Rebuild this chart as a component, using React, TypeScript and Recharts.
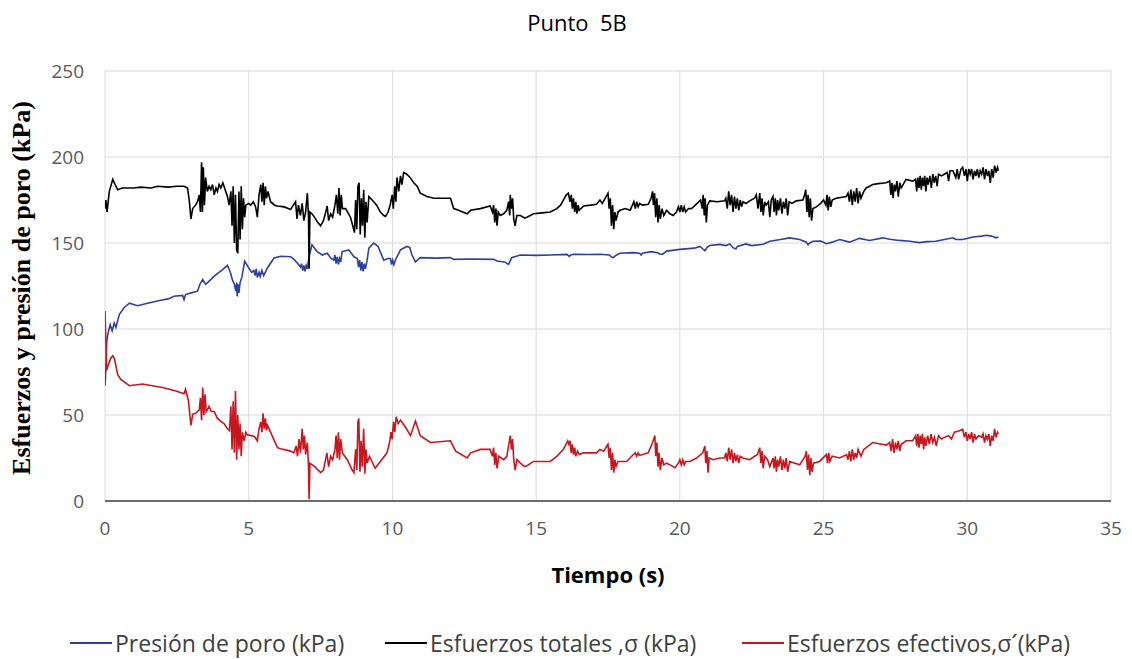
import React from "react";
import { LineChart, Line, XAxis, YAxis, CartesianGrid } from "recharts";

const chartTitle = "Punto  5B";
const xTitle = "Tiempo (s)";
const yTitle = "Esfuerzos y presión de poro (kPa)";
const seriesNames = ["Presión de poro (kPa)", "Esfuerzos totales ,σ (kPa)", "Esfuerzos efectivos,σ´(kPa)"];
const xTicks = [0, 5, 10, 15, 20, 25, 30, 35];
const yTicks = [0, 50, 100, 150, 200, 250];

// Presión de poro (kPa): [tiempo s, valor]
const poreSeries: [number, number][] = [
  [0, 67], [0.03, 77], [0.06, 93], [0.1, 97], [0.18, 102.5], [0.25, 99], [0.32, 103.5], [0.38, 101],
  [0.5, 108.5], [0.67, 112.5], [0.85, 115], [1.13, 113.5], [1.48, 115], [1.94, 116.7], [2.2, 117.5],
  [2.4, 119], [2.7, 119.5], [2.75, 117], [2.8, 120], [3.0, 121], [3.22, 122], [3.3, 126], [3.4, 128.7],
  [3.5, 126], [3.56, 126.8], [3.8, 130.7], [4.09, 134.5], [4.26, 137], [4.36, 133], [4.43, 128.7],
  [4.5, 126], [4.55, 122], [4.58, 127], [4.6, 119], [4.63, 126], [4.66, 121], [4.7, 127], [4.76, 130],
  [4.86, 139.4], [5.0, 135.5], [5.1, 133], [5.18, 134], [5.22, 131], [5.26, 135], [5.3, 130], [5.36, 133],
  [5.4, 130.5], [5.46, 134], [5.52, 131], [5.65, 135.5], [5.88, 141.3], [6.11, 142.3], [6.46, 142],
  [6.6, 140], [6.69, 138.4], [6.8, 136], [6.84, 138], [6.88, 134], [6.92, 137], [6.96, 133.5], [7.0, 137],
  [7.04, 135], [7.1, 142], [7.2, 149], [7.38, 145], [7.56, 143], [7.73, 144], [7.85, 141.3], [7.96, 140],
  [8.0, 143], [8.04, 138], [8.08, 142], [8.12, 137.5], [8.16, 141], [8.2, 139], [8.25, 145], [8.48, 146],
  [8.66, 142], [8.78, 141], [8.82, 136], [8.86, 140], [8.9, 134], [8.94, 139], [8.98, 133.5], [9.02, 138],
  [9.06, 135], [9.12, 140], [9.18, 147], [9.35, 150], [9.5, 148], [9.7, 140], [9.85, 141], [9.93, 141],
  [9.97, 137.5], [10.01, 140], [10.05, 137.4], [10.1, 140], [10.28, 146], [10.5, 148], [10.6, 147.5],
  [10.68, 143], [10.8, 139], [10.97, 141.5], [11.5, 141.2], [12.02, 141.5], [12.13, 140.5], [12.8, 140.7],
  [13.52, 140.5], [13.64, 139.5], [13.9, 139], [14.04, 137.6], [14.15, 141.5], [14.45, 143], [15.0, 142.8],
  [15.5, 143], [16.07, 143.4], [16.15, 142.2], [16.2, 143], [16.3, 143.5], [16.8, 143.3], [17.22, 143.5],
  [17.55, 143], [17.62, 141.8], [17.69, 141.5], [17.75, 142.5], [17.8, 143], [17.92, 144], [18.38, 144.4],
  [18.6, 144], [18.65, 143], [18.7, 144], [19.0, 145], [19.25, 144.2], [19.31, 143.5], [19.4, 143.5],
  [19.54, 145.3], [20.0, 146.3], [20.5, 147], [20.7, 148], [20.8, 146.5], [20.87, 145.5], [20.95, 147.5],
  [21.04, 148.5], [21.39, 149.2], [21.6, 148.5], [21.74, 149.5], [21.85, 147.3], [21.95, 146.5], [22.0, 148],
  [22.3, 149.5], [22.5, 148.5], [22.9, 149.3], [23.13, 151], [23.5, 152], [23.82, 153], [24.17, 152],
  [24.4, 150.5], [24.46, 149], [24.52, 150], [24.63, 151], [24.9, 151.2], [25.1, 149.6], [25.3, 150.5],
  [25.56, 152], [25.9, 150.5], [26.25, 152.7], [26.6, 151.5], [27.06, 153], [27.3, 152.2], [27.64, 151.5],
  [28.0, 151], [28.33, 150.2], [28.6, 150.8], [28.9, 151], [29.2, 152], [29.5, 153], [29.6, 152],
  [29.84, 152], [30.2, 153.5], [30.5, 154], [30.65, 154.5], [30.85, 154], [31.0, 153], [31.08, 153.5],
];

// Esfuerzos totales (kPa)
const totalSeries: [number, number][] = [
  [0, 170], [0.03, 175], [0.07, 168], [0.15, 180], [0.27, 187], [0.35, 184], [0.44, 181], [0.6, 182],
  [1.0, 182], [1.25, 182.5], [1.6, 182], [1.83, 183], [2.2, 182.5], [2.5, 183], [2.75, 183], [2.87, 182],
  [2.93, 175], [2.99, 164], [3.05, 170], [3.15, 172], [3.22, 174], [3.28, 178], [3.32, 168], [3.36, 197],
  [3.39, 168], [3.42, 194], [3.46, 172], [3.5, 188], [3.56, 180], [3.62, 183], [3.68, 181], [3.74, 184],
  [3.8, 178], [3.86, 182], [3.91, 180], [3.97, 184], [4.03, 182], [4.1, 185], [4.18, 181], [4.26, 177],
  [4.32, 172], [4.38, 180], [4.42, 160], [4.46, 183], [4.5, 150], [4.54, 178], [4.58, 146], [4.62, 144],
  [4.66, 180], [4.7, 152], [4.74, 183], [4.78, 158], [4.82, 176], [4.86, 165], [4.9, 172], [5.0, 173],
  [5.07, 172], [5.16, 174], [5.24, 171], [5.3, 165], [5.36, 178], [5.42, 184], [5.46, 174], [5.5, 185],
  [5.54, 172], [5.58, 183], [5.62, 176], [5.67, 180], [5.76, 174], [5.9, 172], [6.0, 171.5], [6.23, 171],
  [6.46, 169.5], [6.55, 172], [6.63, 174], [6.68, 164], [6.73, 172], [6.8, 166], [6.86, 173], [6.92, 163],
  [6.98, 168], [7.04, 179], [7.08, 166], [7.1, 135], [7.13, 168], [7.2, 167], [7.27, 165.5], [7.4, 162],
  [7.5, 160], [7.6, 163], [7.68, 168], [7.73, 171.5], [7.78, 163], [7.85, 167], [7.92, 165], [8.0, 172],
  [8.05, 178], [8.1, 167], [8.14, 182], [8.18, 166], [8.22, 178], [8.26, 170], [8.37, 170], [8.54, 165],
  [8.62, 160], [8.68, 156], [8.72, 175], [8.76, 158], [8.8, 183], [8.84, 185], [8.88, 155], [8.92, 176],
  [8.96, 160], [9.0, 181], [9.04, 153], [9.08, 174], [9.12, 162], [9.18, 177], [9.35, 174], [9.45, 172],
  [9.58, 168], [9.7, 166], [9.76, 165.5], [9.85, 168], [9.92, 172], [9.99, 178], [10.03, 170], [10.08, 183],
  [10.12, 174], [10.16, 188], [10.22, 180], [10.28, 189], [10.33, 184], [10.39, 191], [10.5, 190],
  [10.62, 188], [10.74, 185], [10.86, 183], [10.97, 179], [11.2, 177], [11.44, 176], [12.02, 176],
  [12.13, 170], [12.3, 169], [12.6, 167], [12.72, 169], [13.06, 170], [13.4, 171.5], [13.48, 168],
  [13.52, 172], [13.56, 162], [13.6, 170], [13.64, 160], [13.68, 168], [13.75, 166], [13.87, 167],
  [13.98, 169], [14.04, 174], [14.08, 166], [14.1, 178], [14.14, 170], [14.18, 176], [14.22, 164],
  [14.27, 160], [14.33, 166], [14.45, 166], [14.6, 164.5], [14.68, 165], [14.91, 167], [15.2, 167.5],
  [15.49, 168], [15.72, 170], [15.85, 172], [15.95, 175], [16.05, 178], [16.12, 179], [16.18, 174],
  [16.22, 178], [16.26, 170], [16.3, 176], [16.34, 168], [16.38, 174], [16.42, 167], [16.46, 172],
  [16.5, 169], [16.65, 171.5], [16.9, 172], [17.1, 172.5], [17.22, 175], [17.3, 173], [17.4, 176],
  [17.5, 179], [17.54, 170], [17.58, 176], [17.62, 160], [17.66, 172], [17.7, 158], [17.74, 168],
  [17.78, 163], [17.85, 168], [17.92, 169], [18.1, 170], [18.27, 169], [18.35, 172], [18.4, 174],
  [18.45, 170], [18.5, 174], [18.55, 171], [18.6, 173], [18.7, 172], [18.9, 172.5], [19.0, 176],
  [19.05, 180], [19.08, 172], [19.12, 179], [19.16, 165], [19.2, 176], [19.24, 162], [19.28, 172],
  [19.32, 164], [19.38, 170], [19.44, 166], [19.54, 169], [19.65, 167], [19.77, 166], [19.88, 168],
  [19.95, 171], [20.0, 168], [20.05, 172], [20.1, 168], [20.15, 171], [20.2, 168], [20.3, 170], [20.4, 170],
  [20.47, 171], [20.6, 173], [20.72, 175], [20.78, 170], [20.81, 178], [20.85, 166], [20.88, 176],
  [20.92, 162], [20.96, 172], [21.04, 174.5], [21.3, 174], [21.56, 174.5], [21.6, 176], [21.65, 170],
  [21.7, 180], [21.75, 172], [21.8, 178], [21.85, 168], [21.9, 177], [21.95, 170], [22.0, 176], [22.05, 169],
  [22.1, 175], [22.15, 171], [22.2, 174], [22.3, 173], [22.43, 174.5], [22.6, 176], [22.66, 178],
  [22.72, 170], [22.78, 179], [22.82, 168], [22.86, 176], [22.9, 166], [22.95, 174], [23.0, 172],
  [23.08, 174], [23.13, 165], [23.18, 175], [23.24, 177], [23.28, 168], [23.32, 176], [23.36, 166],
  [23.4, 175], [23.44, 169], [23.5, 176], [23.55, 167], [23.6, 174], [23.65, 170], [23.7, 176], [23.75, 166],
  [23.8, 174], [23.9, 173], [24.05, 174.5], [24.28, 175], [24.34, 178], [24.38, 181], [24.42, 168],
  [24.46, 178], [24.5, 165], [24.54, 176], [24.58, 163], [24.63, 170], [24.75, 171], [24.9, 173], [25.0, 175],
  [25.08, 172], [25.12, 178], [25.16, 169], [25.2, 177], [25.25, 171], [25.3, 175], [25.44, 176],
  [25.6, 176.5], [25.79, 177], [25.85, 179], [25.9, 174], [25.95, 181], [26.0, 172], [26.05, 180],
  [26.1, 174], [26.15, 182], [26.2, 173], [26.25, 180], [26.3, 176], [26.4, 180], [26.48, 182], [26.6, 183],
  [26.71, 184], [26.9, 184.5], [27.18, 185], [27.3, 186], [27.34, 178], [27.38, 185], [27.42, 176],
  [27.46, 184], [27.5, 180], [27.55, 186], [27.6, 177], [27.65, 185], [27.7, 182], [27.87, 187], [28.1, 186],
  [28.2, 187], [28.24, 180], [28.28, 188], [28.32, 182], [28.36, 189], [28.4, 181], [28.44, 188],
  [28.48, 183], [28.52, 189], [28.56, 180], [28.6, 188], [28.64, 184], [28.7, 189], [28.75, 182], [28.8, 190],
  [28.85, 185], [28.9, 189], [28.95, 183], [29.0, 190], [29.1, 189], [29.2, 190], [29.3, 191], [29.35, 186],
  [29.4, 192], [29.5, 192], [29.6, 188], [29.65, 193], [29.7, 187], [29.78, 193], [29.84, 194], [29.9, 189],
  [29.95, 193], [30.0, 186], [30.05, 193], [30.1, 190], [30.15, 193], [30.2, 187], [30.25, 192], [30.3, 189],
  [30.35, 193], [30.4, 188], [30.45, 192], [30.5, 190], [30.55, 194], [30.6, 187], [30.65, 193], [30.7, 189],
  [30.75, 192], [30.8, 185], [30.85, 193], [30.9, 188], [30.95, 195], [31.0, 191], [31.05, 194], [31.08, 192],
];

// Esfuerzos efectivos (kPa)
const effectiveSeries: [number, number][] = [
  [0, 110.5], [0.03, 93], [0.06, 76], [0.1, 78.5], [0.2, 83], [0.27, 84.5], [0.33, 82.5], [0.44, 73.6],
  [0.55, 70.7], [0.85, 67], [1.3, 68], [2.0, 66], [2.47, 64], [2.75, 62.4], [2.8, 65], [2.9, 58.6],
  [2.99, 44], [3.05, 50.4], [3.15, 51], [3.28, 53], [3.32, 60], [3.36, 47], [3.4, 66], [3.44, 50],
  [3.48, 62], [3.52, 52], [3.56, 53], [3.62, 55], [3.7, 52], [3.8, 52], [3.91, 48], [4.05, 46], [4.14, 45],
  [4.26, 42], [4.33, 41], [4.38, 55], [4.42, 30], [4.46, 58], [4.5, 28], [4.54, 64], [4.58, 24], [4.62, 50],
  [4.66, 30], [4.7, 45], [4.74, 26], [4.78, 40], [4.84, 35], [4.9, 40], [4.95, 38.5], [5.2, 37.5], [5.3, 35],
  [5.36, 42], [5.42, 46], [5.46, 40], [5.5, 51], [5.54, 42], [5.58, 48], [5.62, 41], [5.65, 44], [5.76, 40],
  [6.0, 31], [6.2, 30], [6.46, 29], [6.57, 28], [6.65, 32], [6.7, 26], [6.75, 36], [6.8, 28], [6.86, 42],
  [6.9, 30], [6.94, 38], [6.98, 27], [7.04, 34], [7.08, 20], [7.1, 1], [7.13, 22], [7.3, 20], [7.5, 16.5],
  [7.6, 18], [7.72, 28], [7.78, 20], [7.85, 26], [7.92, 24], [8.0, 30], [8.04, 38], [8.08, 25], [8.12, 40],
  [8.16, 24], [8.2, 36], [8.26, 28], [8.43, 24], [8.6, 18], [8.66, 16.5], [8.72, 30], [8.76, 18], [8.8, 46],
  [8.83, 48], [8.87, 17], [8.91, 35], [8.95, 20], [9.0, 42], [9.04, 16], [9.08, 30], [9.12, 22], [9.2, 26],
  [9.4, 19], [9.58, 23], [9.81, 28], [9.9, 34], [9.95, 40], [9.99, 36], [10.04, 46], [10.08, 40],
  [10.13, 49], [10.2, 45], [10.28, 47], [10.45, 43], [10.63, 38], [10.8, 46.5], [10.97, 38], [11.32, 34],
  [12.02, 35], [12.2, 29], [12.6, 25], [12.72, 28], [13.06, 30], [13.4, 30], [13.48, 26], [13.52, 31],
  [13.56, 21], [13.6, 28], [13.64, 19], [13.7, 26], [13.87, 24], [13.98, 26], [14.04, 32], [14.1, 38],
  [14.14, 30], [14.18, 36], [14.22, 24], [14.27, 18], [14.33, 24], [14.45, 22], [14.6, 20], [14.68, 20.5],
  [14.91, 23], [15.49, 23], [15.72, 26], [15.95, 30], [16.1, 35], [16.14, 33], [16.18, 35], [16.22, 28],
  [16.26, 33], [16.3, 27], [16.34, 31], [16.38, 26], [16.44, 29], [16.5, 27], [16.65, 28], [17.1, 28],
  [17.22, 30], [17.35, 29], [17.5, 33], [17.54, 25], [17.58, 31], [17.62, 18], [17.66, 28], [17.7, 16.5],
  [17.74, 24], [17.78, 20], [17.85, 23], [18.15, 23], [18.38, 27], [18.45, 28], [18.5, 26], [18.55, 28],
  [18.6, 26.5], [18.9, 28], [19.05, 34], [19.13, 38], [19.16, 26], [19.2, 34], [19.24, 20], [19.28, 28],
  [19.32, 18], [19.38, 25], [19.44, 21], [19.54, 22], [19.66, 21], [19.83, 19.3], [19.95, 22], [20.0, 24],
  [20.05, 21], [20.1, 24], [20.15, 21], [20.2, 23], [20.35, 23], [20.58, 25], [20.8, 28], [20.87, 32],
  [20.9, 22], [20.94, 29], [20.98, 16.5], [21.02, 25], [21.16, 24], [21.39, 25], [21.56, 25], [21.6, 28],
  [21.65, 23], [21.7, 31], [21.75, 24], [21.8, 30], [21.85, 22], [21.9, 28], [21.95, 23], [22.0, 27],
  [22.05, 22], [22.1, 26], [22.2, 25], [22.43, 24], [22.6, 26], [22.7, 27], [22.78, 31], [22.82, 22],
  [22.86, 29], [22.9, 19], [22.95, 26], [23.05, 24], [23.13, 20], [23.24, 25], [23.28, 19], [23.32, 26],
  [23.36, 17], [23.4, 24], [23.44, 20], [23.5, 26], [23.55, 18], [23.6, 24], [23.65, 19], [23.7, 25],
  [23.75, 17], [23.82, 23], [24.17, 21], [24.36, 26], [24.4, 29], [24.44, 18], [24.48, 27], [24.52, 15],
  [24.56, 25], [24.6, 17], [24.65, 22], [24.86, 23], [25.1, 27], [25.14, 22], [25.18, 28], [25.22, 23],
  [25.3, 26], [25.56, 25], [25.8, 27], [25.85, 24], [25.9, 29], [25.95, 23], [26.0, 30], [26.05, 24],
  [26.1, 28], [26.15, 25], [26.2, 30], [26.3, 26], [26.4, 30], [26.71, 34], [27.18, 32.5], [27.3, 34],
  [27.35, 29], [27.4, 36], [27.45, 28], [27.5, 34], [27.55, 30], [27.6, 35], [27.65, 29], [27.7, 33],
  [27.87, 35], [28.1, 35], [28.2, 38], [28.24, 32], [28.28, 39], [28.32, 31], [28.36, 38], [28.4, 33],
  [28.44, 39], [28.48, 30], [28.52, 37], [28.56, 32], [28.62, 38], [28.68, 33], [28.74, 39], [28.8, 34],
  [28.86, 37], [28.92, 32], [29.0, 38], [29.1, 36], [29.2, 37], [29.35, 38], [29.45, 36], [29.55, 40],
  [29.7, 40.7], [29.84, 41.6], [29.9, 37], [29.95, 40], [30.0, 35], [30.05, 39], [30.1, 36], [30.15, 40],
  [30.2, 34], [30.25, 39], [30.3, 36], [30.4, 38], [30.5, 37], [30.55, 39], [30.6, 34], [30.65, 38],
  [30.7, 36], [30.75, 39], [30.8, 32], [30.85, 38], [30.9, 35], [30.95, 42], [31.0, 37], [31.05, 40],
  [31.08, 39],
];

const colors = ["#2f3f9f", "#000000", "#c8161e"];

const toPoints = (s: [number, number][]) => s.map(([t, v]) => ({ t, v }));

const W = 1124;
const H = 651;
const sans = "'Open Sans', 'Noto Sans', sans-serif";

export default function App() {
  const seriesData = [poreSeries, totalSeries, effectiveSeries].map(toPoints);
  const legendLeft = [62, 377, 734];
  return (
    <div style={{ position: "relative", width: W, height: H, background: "#fff" }}>
      <LineChart
        width={W}
        height={H}
        margin={{ top: 63, right: 21, bottom: 128, left: 0 }}
      >
        <CartesianGrid stroke="#d9d9d9" strokeWidth={1} />
        <XAxis
          type="number"
          dataKey="t"
          domain={[0, 35]}
          ticks={xTicks}
          allowDataOverflow
          height={30}
          tickSize={0}
          tickMargin={21}
          axisLine={{ stroke: "#404040", strokeWidth: 1.5 }}
          tickLine={false}
          tick={{ fill: "#595959", fontSize: 19, fontFamily: sans }}
        />
        <YAxis
          type="number"
          domain={[0, 250]}
          ticks={yTicks}
          allowDataOverflow
          width={97}
          tickSize={0}
          tickMargin={21}
          axisLine={false}
          tickLine={false}
          tick={{ fill: "#595959", fontSize: 19, fontFamily: sans }}
        />
        {seriesData.map((d, i) => (
          <Line
            key={i}
            data={d}
            dataKey="v"
            type="linear"
            stroke={colors[i]}
            strokeWidth={1.6}
            dot={false}
            activeDot={false}
            isAnimationActive={false}
            name={seriesNames[i]}
          />
        ))}
      </LineChart>
      <div
        style={{
          position: "absolute", left: 569, top: 14, transform: "translate(-50%, -50%)",
          fontFamily: sans, fontSize: 22, color: "#000", whiteSpace: "pre",
        }}
      >
        {chartTitle}
      </div>
      <div
        style={{
          position: "absolute", left: 14, top: 280, transform: "translate(-50%, -50%) rotate(-90deg)",
          fontFamily: "'Liberation Serif', 'DejaVu Serif', serif", fontWeight: "bold", fontSize: 26,
          color: "#000", whiteSpace: "nowrap",
        }}
      >
        {yTitle}
      </div>
      <div
        style={{
          position: "absolute", left: 600, top: 566, transform: "translate(-50%, -50%)",
          fontFamily: sans, fontWeight: "bold", fontSize: 22, color: "#000", whiteSpace: "nowrap",
        }}
      >
        {xTitle}
      </div>
      {seriesNames.map((n, i) => (
        <div
          key={n}
          style={{
            position: "absolute", left: legendLeft[i], top: 635, transform: "translateY(-50%)",
            display: "flex", alignItems: "center", whiteSpace: "pre",
            fontFamily: sans, fontSize: 23, color: "#404040",
          }}
        >
          <span style={{ display: "inline-block", width: 42, height: 2, background: colors[i], marginRight: 3 }} />
          <span>{n}</span>
        </div>
      ))}
    </div>
  );
}
